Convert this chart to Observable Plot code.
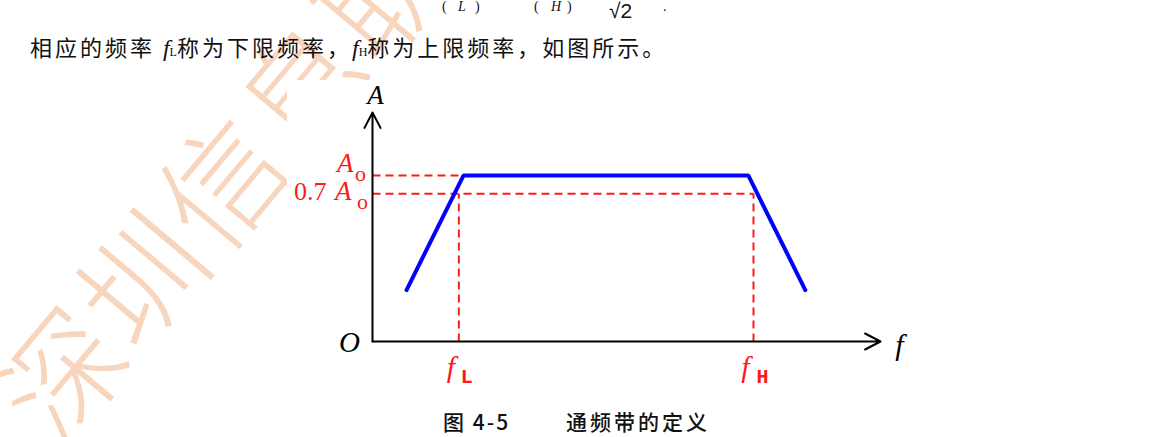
<!DOCTYPE html>
<html><head><meta charset="utf-8">
<script src="https://cdn.jsdelivr.net/npm/d3@7"></script>
<script src="https://cdn.jsdelivr.net/npm/@observablehq/plot@0.6"></script>
<style>
html,body{margin:0;padding:0;background:#fff;}
#page{position:relative;width:1157px;height:437px;overflow:hidden;background:#fff;}
#wm{position:absolute;left:17px;top:356px;font-family:"Noto Sans CJK SC";font-weight:300;font-size:122px;line-height:122px;height:122px;color:#f8d5bd;white-space:nowrap;letter-spacing:3px;transform-origin:0 50%;transform:rotate(-50deg);z-index:0;}
#top{position:absolute;left:0;top:0;width:1157px;height:80px;z-index:2;font-family:"Noto Sans CJK SC";color:#111;}
.abs{position:absolute;white-space:nowrap;line-height:1;}
#line{left:30px;top:35px;font-size:22px;letter-spacing:3px;}
.it{font-family:"Liberation Serif";font-style:italic;font-size:24px;letter-spacing:0;}
.sb{font-family:"Liberation Serif";font-size:12px;letter-spacing:0;}
#fig{position:absolute;left:287px;top:80px;z-index:1;}
#cap{position:absolute;left:0;top:400px;width:1157px;height:37px;z-index:2;font-family:"Noto Sans CJK SC";font-size:21px;font-weight:500;color:#111;white-space:nowrap;}
</style></head>
<body><div id="page">
<div id="wm"></div>
<div id="top">
  <span class="abs" style="left:442px;top:0px;font-family:'Liberation Serif';font-size:14px;">(</span>
  <span class="abs" style="left:458px;top:0px;font-family:'Liberation Serif';font-style:italic;font-size:14px;">L</span>
  <span class="abs" style="left:475px;top:0px;font-family:'Liberation Serif';font-size:14px;">)</span>
  <span class="abs" style="left:534px;top:0px;font-family:'Liberation Serif';font-size:14px;">(</span>
  <span class="abs" style="left:551px;top:0px;font-family:'Liberation Serif';font-style:italic;font-size:14px;">H</span>
  <span class="abs" style="left:567px;top:0px;font-family:'Liberation Serif';font-size:14px;">)</span>
  <span class="abs" style="left:609px;top:0px;font-family:'Liberation Sans';font-size:21px;">√2</span>
  <span class="abs" style="left:663px;top:0px;font-family:'Liberation Serif';font-size:14px;">.</span>
  <div id="line" class="abs"></div>
</div>
<div id="fig"></div>
<div id="cap"></div>
</div>
<script>
// ---- data ----
const watermarkText = "深圳信息职业技术学院";
const introParts = ["相应的频率 ", "f", "L", "称为下限频率，", "f", "H", "称为上限频率，如图所示。"];
const captionNum = "图 4-5";
const captionTitle = "通频带的定义";

const fDomain = [0, 100];       // frequency axis (arbitrary units)
const aDomain = [0, 1.38];      // amplitude axis (A0 = 1)
const bandF = [6.7, 17.9, 74.0, 85.2];   // pass-band response, f values
const bandA = [0.31, 1.0, 1.0, 0.31];    // pass-band response, A values
const fL = 17, fH = 75;
const A0 = 1.0, A07 = 0.89;
const axisLabels = {y: "A", x: "f", origin: "O"};
const levelLabels = ["A", "0.7", "o"];
const cutLabels = ["f", "L", "H"];

// ---- text ----
document.getElementById("wm").textContent = watermarkText;
const line = document.getElementById("line");
line.innerHTML = `${introParts[0]}<span class="it">${introParts[1]}</span><span class="sb">${introParts[2]}</span>${introParts[3]}<span class="it">${introParts[4]}</span><span class="sb">${introParts[5]}</span>${introParts[6]}`;
const cap = document.getElementById("cap");
cap.innerHTML = `<span class="abs" style="left:443px;top:11px;letter-spacing:2px;">${captionNum}</span><span class="abs" style="left:566px;top:11px;letter-spacing:3px;">${captionTitle}</span>`;

// ---- chart ----
const band = bandF.map((f, i) => ({f, a: bandA[i]}));
const dashed = [
  {x1: 0, y1: A0, x2: bandF[1], y2: A0},
  {x1: 0, y1: A07, x2: fH, y2: A07},
  {x1: fL, y1: 0, x2: fL, y2: A07},
  {x1: fH, y1: 0, x2: fH, y2: A07}
];
const axes = [
  {x1: 0, y1: 0, x2: 0, y2: aDomain[1]},
  {x1: 0, y1: 0, x2: fDomain[1], y2: 0}
];
const red = "#ff1a1a";
const serifIt = {fontFamily: "Liberation Serif", fontStyle: "italic"};

const chart = Plot.plot({
  width: 640, height: 320,
  x: {domain: fDomain, range: [85, 593], axis: null},
  y: {domain: aDomain, range: [261, 32], axis: null},
  style: {background: "#fff", overflow: "visible"},
  marks: [
    Plot.link(dashed, {x1: "x1", y1: "y1", x2: "x2", y2: "y2", stroke: red, strokeWidth: 2, strokeDasharray: "8,5"}),
    Plot.arrow(axes, {x1: "x1", y1: "y1", x2: "x2", y2: "y2", stroke: "#000", strokeWidth: 2, headLength: 13, headAngle: 55}),
    Plot.line(band, {x: "f", y: "a", stroke: "#0000ff", strokeWidth: 4, strokeLinejoin: "miter"}),
    // axis labels
    Plot.text([axisLabels], {x: () => 0, y: () => aDomain[1], text: d => d.y, dy: -17, dx: 3, fontSize: 27, ...serifIt, fill: "#000"}),
    Plot.text([axisLabels], {x: () => fDomain[1], y: () => 0, text: d => d.x, dx: 19, dy: 4, fontSize: 30, ...serifIt, fill: "#000"}),
    Plot.text([axisLabels], {x: () => 0, y: () => 0, text: d => d.origin, dx: -23, dy: 1, fontSize: 29, ...serifIt, fill: "#000"}),
    // level labels
    Plot.text([levelLabels], {x: () => 0, y: () => A0, text: d => d[0], textAnchor: "end", dx: -19, dy: -12, fontSize: 27, ...serifIt, fill: red}),
    Plot.text([levelLabels], {x: () => 0, y: () => A0, text: d => d[2], dx: -12, dy: -2, fontSize: 22, fontFamily: "Liberation Serif", fill: red}),
    Plot.text([levelLabels], {x: () => 0, y: () => A07, text: d => d[1], textAnchor: "end", dx: -46, dy: -2, fontSize: 26, fontFamily: "Liberation Serif", fill: red}),
    Plot.text([levelLabels], {x: () => 0, y: () => A07, text: d => d[0], textAnchor: "end", dx: -21, dy: -2, fontSize: 27, ...serifIt, fill: red}),
    Plot.text([levelLabels], {x: () => 0, y: () => A07, text: d => d[2], dx: -10, dy: 8, fontSize: 22, fontFamily: "Liberation Serif", fill: red}),
    // cut-off labels
    Plot.text([fL, fH], {x: d => d, y: () => 0, text: () => cutLabels[0], dx: -8, dy: 26, fontSize: 30, ...serifIt, fill: red}),
    Plot.text([fL], {x: d => d, y: () => 0, text: () => cutLabels[1], dx: 8, dy: 35, fontSize: 20, fontFamily: "Liberation Mono", fontWeight: "bold", fill: red}),
    Plot.text([fH], {x: d => d, y: () => 0, text: () => cutLabels[2], dx: 9, dy: 35, fontSize: 20, fontFamily: "Liberation Mono", fontWeight: "bold", fill: red})
  ]
});
document.getElementById("fig").appendChild(chart);
</script>
</body></html>
